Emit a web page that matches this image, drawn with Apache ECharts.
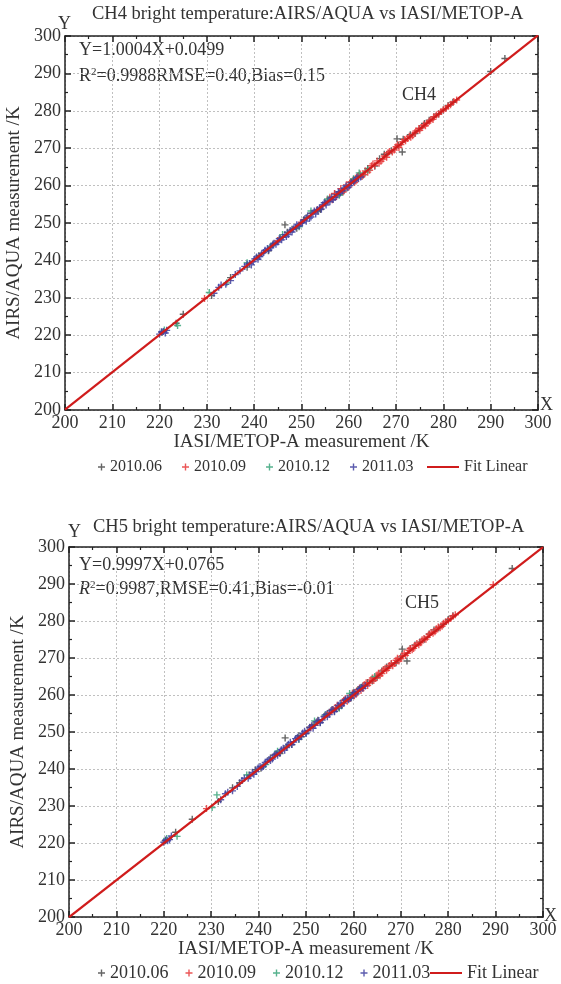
<!DOCTYPE html>
<html><head><meta charset="utf-8">
<script src="https://cdn.jsdelivr.net/npm/echarts@6/dist/echarts.min.js"></script>
<style>html,body{margin:0;padding:0;background:#fff}#c{width:561px;height:984px}</style>
</head><body><div id="c"></div>
<script>
// ---------- data ----------
const seriesNames = ['2010.06', '2010.09', '2010.12', '2011.03'];
const axisTicks = [200, 210, 220, 230, 240, 250, 260, 270, 280, 290, 300];

// CH4 (IASI x, AIRS y)
const ch4_201006 = [[220.5,220.8],[223.5,223.2],[225,225.6],[231,230.6],[235,235.4],[238.5,238.2],[241,241.3],[243,242.6],[244,244.4],[245.5,246],[246.5,249.5],[247,247.5],[248,248.3],[249,248.6],[250.5,250.9],[251,251.4],[252,252.6],[253.5,253.2],[254,253.6],[255,255.4],[256,256.5],[257,257.8],[258,257.7],[259,258.6],[260.5,261],[261,261.6],[262,262.4],[263,262.8],[264,264.6],[265.5,265.2],[266.5,267.2],[267.5,268.4],[268,268.3],[269,269.3],[270.2,272.5],[270.5,270.8],[271.3,269],[271.5,272.4],[273,273.6],[274,273.9],[275,275.3],[276,276.6],[277,277.5],[278,278.4],[279,279.2],[280,280.2],[281,281.4],[282,282.3],[290,290.5],[293,294]];
const ch4_201009 = [[229.5,229.8],[245,245.3],[250,250.2],[253.2,253.5],[254.5,254.6],[255.5,255.8],[256,256.9],[256.5,256.2],[257,257.9],[257.4,257.1],[258,258.4],[258.3,259.2],[258.8,258.3],[259.1,259],[259.5,260.2],[260,259.6],[260.3,260.9],[260.8,261.3],[261.2,260.8],[261.5,261.2],[262,262.7],[262.4,263.1],[262.8,262.4],[263.2,263],[263.5,263.9],[264,263.6],[264.4,264.1],[264.8,265.3],[265.1,265.8],[265.5,265.4],[266,266.6],[266.4,266],[266.8,266.5],[267.2,267.1],[267.5,267.9],[268,267.6],[268.3,268.8],[268.6,269.1],[269.2,269],[269.6,269.5],[270,270.4],[270.3,270.9],[270.6,270.2],[271,271],[271.3,271.7],[271.8,272.3],[272,272],[272.4,272.6],[272.8,273.2],[273.1,272.9],[273.5,273.3],[274,274.2],[274.2,274.6],[274.8,275.3],[275,274.8],[275.4,275.5],[275.8,276.2],[276.2,276],[276.5,276.6],[277,277.2],[277.3,277.5],[277.8,277.7],[278,278.4],[278.5,278.9],[279,279.1],[279.5,279.8],[280,280.3],[280.5,280.6],[281,281.2],[281.5,281.6],[282.2,282.5],[282.8,282.9]];
const ch4_201012 = [[221,221.4],[223.8,222.6],[230.5,231.4],[234.2,234],[238.5,239.4],[243.5,243.8],[246,246.9],[249.5,249],[252,253.2],[255.5,256.4],[258,257.4],[261,261.8],[262.2,263.4],[264,264.2]];
const ch4_201103 = [[220,220.3],[220.4,220.9],[220.8,221],[221.2,220.6],[221.5,221.3],[231.5,231.2],[232.5,232.8],[233,233.4],[234,233.6],[235,234.6],[236,236.2],[237,237.2],[238,238.4],[238.5,239],[239,239.2],[239.4,238.8],[239.8,239.7],[240.1,240.4],[240.5,240.9],[240.8,240.3],[241.2,241],[241.6,241.8],[242,242.1],[242.3,242.7],[242.8,243.2],[243.1,242.8],[243.5,243.4],[243.9,244.1],[244.2,244.6],[244.6,244.3],[245,244.9],[245.3,245.8],[245.8,245.5],[246.1,246.2],[246.5,246.9],[246.8,246.4],[247.2,246.9],[247.6,248],[248,247.6],[248.3,248.4],[248.7,248.9],[249,249.5],[249.5,249.2],[249.8,249.9],[250.2,250.1],[250.6,250.8],[251,250.5],[251.3,251.9],[251.7,251.3],[252,251.6],[252.4,252.7],[252.7,253.2],[253,252.4],[253.4,253.6],[253.8,254],[254.2,253.7],[254.5,254.9],[254.8,255.4],[255.2,254.8],[255.6,255.9],[256,255.7],[256.4,256.9],[256.7,256.3],[257.1,256.8],[257.5,257.6],[257.8,258.3],[258.2,258],[258.6,258.6],[259,259.3],[259.4,259.9],[259.8,259.5],[260.2,260],[260.5,260.7],[261,261.1],[261.3,261.4],[261.7,262.2],[262,261.8],[262.5,262.3]];
const ch4_fit = [[200,200.13],[300,300.17]];

// CH5
const ch5_201006 = [[220.3,220.6],[222.5,222.9],[226,226.4],[231.5,231.2],[234.5,234.9],[236,236.3],[238,238.4],[239.3,239.8],[240.5,240.2],[242.5,243],[243.5,243.9],[244.5,244.2],[245.6,248.4],[246,246.2],[247,246.6],[248.5,249],[249,248.7],[250,249.7],[250.8,251.3],[251.5,252],[252.5,253.2],[253,252.6],[254.5,255],[255.5,256.1],[256,255.6],[257,256.6],[258,258.6],[259.5,259.2],[260,260.6],[261,261.5],[262,262.4],[263,263.4],[264,263.8],[265,264.8],[266,266.5],[267,267.6],[268,268.4],[269,268.7],[270,270.3],[270.3,272.4],[271.3,269.2],[272,272.6],[273,273.5],[274,274.3],[275,275.1],[276,276.5],[277,277.6],[278,278.2],[279,279.1],[280,280.4],[281,281.4],[293.5,294.2]];
const ch5_201009 = [[229,229.3],[244,244.2],[251,251.2],[252.5,252.6],[254,254.3],[255,255.3],[255.6,255.9],[256.2,256.6],[256.6,257.2],[257,256.7],[257.5,257.4],[258,258.5],[258.3,259],[258.7,258.3],[259.1,259.1],[259.5,259.9],[259.8,260.5],[260.2,259.8],[260.6,260.3],[261,261.4],[261.3,261.9],[261.6,261.2],[262,261.8],[262.3,262.8],[262.7,263.3],[263,262.6],[263.4,263.2],[263.7,264.1],[264,264.6],[264.3,263.9],[264.7,264.5],[265,265.4],[265.3,265.9],[265.6,265.2],[266,265.8],[266.3,266.8],[266.7,267.2],[267,266.7],[267.3,267.2],[267.6,268],[268,268.5],[268.3,267.9],[268.7,268.5],[269,269.4],[269.3,269.9],[269.6,269.2],[270,269.8],[270.3,270.6],[270.7,271.2],[271,270.7],[271.4,271.3],[271.7,272.1],[272,272.6],[272.4,272.2],[272.7,272.6],[273,273.4],[273.4,273.9],[273.8,273.6],[274.2,274.1],[274.5,274.9],[274.9,275.3],[275.3,275.1],[275.6,275.6],[276,276.4],[276.4,276.9],[276.8,276.7],[277.2,277.1],[277.5,277.9],[277.9,278.4],[278.3,278.2],[278.7,278.6],[279,279.4],[279.5,279.8],[280,280.1],[280.5,280.7],[281,281.3],[281.5,281.7],[289.5,289.8]];
const ch5_201012 = [[220.6,221.2],[222.8,221.8],[230.2,229.6],[231.2,233],[237.5,238.4],[241.5,241.2],[244,244.8],[248.5,248],[251.8,253],[254,254.6],[257,256.4],[259.2,260.4],[261.5,262],[264.5,265]];
const ch5_201103 = [[220,220.2],[220.4,220.8],[220.8,220.6],[221.2,220.9],[221.6,221.9],[232,231.7],[233,233.3],[233.5,233.7],[234.5,234.1],[235.5,235.3],[236.5,236.9],[237,237.5],[237.8,237.5],[238.2,238.1],[238.7,239.1],[239,238.6],[239.5,239.3],[239.9,240.3],[240.3,240.7],[240.7,240.5],[241,240.7],[241.4,241.8],[241.8,242.1],[242.2,242.6],[242.5,242.3],[242.9,242.7],[243.3,243.7],[243.7,244.1],[244,243.7],[244.4,244.5],[244.8,245.2],[245.2,245.6],[245.5,245.1],[245.9,245.8],[246.3,246.7],[246.7,247.2],[247,246.6],[247.4,247.3],[247.8,248.2],[248.2,248.6],[248.5,248.1],[248.9,248.8],[249.3,249.7],[249.7,250.2],[250,249.6],[250.4,250.3],[250.8,251.2],[251.2,251.7],[251.5,251],[251.9,251.8],[252.3,252.8],[252.7,253.1],[253,252.5],[253.4,253.2],[253.8,254.2],[254.2,254.7],[254.5,254.1],[254.9,254.7],[255.3,255.8],[255.7,256.1],[256,255.5],[256.4,256.2],[256.8,257.2],[257.2,257.7],[257.5,257.1],[257.9,257.8],[258.3,258.7],[258.7,259.1],[259,258.7],[259.4,259.2],[259.8,260.1],[260.2,260.6],[260.5,260.3],[260.9,260.9],[261.3,261.7],[261.7,262.1],[262,261.8],[262.5,262.4]];
const ch5_fit = [[200,199.94],[300,299.99]];

// ---------- styling ----------
const FONT = 'Liberation Serif';
const colors = ['#4a4a4a', '#e8383a', '#3aa57a', '#4040a0'];
const fitColor = '#d01c1c';
const plus = 'path://M4,0h2v4h4v2h-4v4h-2v-4h-4v-2h4z';

const grids = [
  {left: 65, right: 23, top: 36, height: 374, outerBoundsMode: 'none', containLabel: false},
  {left: 69, right: 18, top: 547, height: 370, outerBoundsMode: 'none', containLabel: false}
];
const cfg = [
  {xNameGap: 21, yNameGap: 38, legendTop: 459, legendFont: 16, legendGap: 20, legendLeft: 98, fitLeft: 427, titleLeft: 92, titleTop: 5},
  {xNameGap: 17, yNameGap: 39, legendTop: 964, legendFont: 18, legendGap: 17, legendLeft: 98, fitLeft: 430, titleLeft: 93, titleTop: 518}
];

function axisBase(gi, pos, showLabel) {
  return {
    type: 'value', gridIndex: gi, position: pos, min: 200, max: 300, interval: 10,
    axisLine: {show: true, onZero: false, lineStyle: {color: '#222', width: 1.5}},
    axisTick: {show: true, inside: true, length: 6, lineStyle: {color: '#222', width: 1.5}},
    minorTick: {show: true, splitNumber: 2, length: 3, lineStyle: {color: '#222', width: 1.2}},
    splitLine: {show: showLabel, lineStyle: {color: '#c0c0c0', type: [2, 2], width: 1}},
    axisLabel: {show: showLabel, color: '#333', fontFamily: FONT, fontSize: 18, margin: 4,
      formatter: v => axisTicks.indexOf(v) >= 0 ? String(v) : ''}
  };
}

const xAxis = [], yAxis = [], series = [];
const sets = [
  {data: [ch4_201006, ch4_201009, ch4_201012, ch4_201103], fit: ch4_fit},
  {data: [ch5_201006, ch5_201009, ch5_201012, ch5_201103], fit: ch5_fit}
];
grids.forEach((g, gi) => {
  const c = cfg[gi];
  const xb = axisBase(gi, 'bottom', true);
  xb.name = 'IASI/METOP-A measurement /K';
  xb.nameLocation = 'middle'; xb.nameGap = c.xNameGap;
  xb.nameTextStyle = {fontFamily: FONT, fontSize: 19, color: '#333', verticalAlign: 'top'};
  const xt = axisBase(gi, 'top', false);
  const yl = axisBase(gi, 'left', true);
  yl.name = 'AIRS/AQUA measurement /K';
  yl.nameLocation = 'middle'; yl.nameGap = c.yNameGap;
  yl.nameTextStyle = {fontFamily: FONT, fontSize: 19, color: '#333'};
  const yr = axisBase(gi, 'right', false);
  xAxis.push(xb, xt);
  yAxis.push(yl, yr);
  const xi = gi * 2, yi = gi * 2;
  sets[gi].data.forEach((d, k) => {
    series.push({type: 'scatter', name: seriesNames[k], xAxisIndex: xi, yAxisIndex: yi,
      data: d, symbol: plus, symbolSize: 7, itemStyle: {color: colors[k], opacity: 0.85}, z: 3});
  });
  series.push({type: 'line', name: 'Fit Linear', xAxisIndex: xi, yAxisIndex: yi,
    data: sets[gi].fit, showSymbol: false, symbol: 'none',
    lineStyle: {color: fitColor, width: 2.2}, itemStyle: {color: fitColor}, z: 5});
});

const legends = [];
cfg.forEach(c => {
  legends.push({
    top: c.legendTop, left: c.legendLeft, padding: 0, itemGap: c.legendGap, itemWidth: 7, itemHeight: 7,
    textStyle: {fontFamily: FONT, fontSize: c.legendFont, color: '#333'},
    data: seriesNames.map((n, k) => ({name: n, icon: plus, itemStyle: {color: colors[k]}}))
  });
  legends.push({
    top: c.legendTop, left: c.fitLeft, padding: 0, itemWidth: 32, itemHeight: 2,
    textStyle: {fontFamily: FONT, fontSize: c.legendFont, color: '#333'},
    data: [{name: 'Fit Linear', icon: 'rect', itemStyle: {color: fitColor}}]
  });
});

const F = s => s + 'px "' + FONT + '"';
const txt = (x, y, t, size) => ({type: 'text', left: x, top: y,
  style: {text: t, font: F(size), fill: '#333'}});

const option = {
  animation: false,
  backgroundColor: '#fff',
  title: cfg.map((c, i) => ({
    text: (i === 0 ? 'CH4' : 'CH5') + ' bright temperature:AIRS/AQUA vs IASI/METOP-A',
    left: c.titleLeft, top: c.titleTop, padding: 0,
    textStyle: {fontFamily: FONT, fontSize: 18.5, fontWeight: 'normal', color: '#333'}
  })),
  grid: grids,
  xAxis: xAxis,
  yAxis: yAxis,
  legend: legends,
  series: series,
  graphic: [
    txt(58, 15, 'Y', 18), txt(540, 396, 'X', 18),
    txt(68, 523, 'Y', 18), txt(544, 907, 'X', 18),
    txt(79, 41, 'Y=1.0004X+0.0499', 18),
    {type: 'text', left: 79, top: 67, style: {
      text: '{a|R}{s|2}{a|=0.9988RMSE=0.40,Bias=0.15}',
      rich: {a: {font: F(18), fill: '#333'}, s: {font: F(11), fill: '#333', verticalAlign: 'top', padding: [0, 0, 8, 0]}}}},
    txt(402, 86, 'CH4', 18),
    txt(79, 556, 'Y=0.9997X+0.0765', 18),
    {type: 'text', left: 79, top: 580, style: {
      text: '{i|R}{s|2}{a|=0.9987,RMSE=0.41,Bias=-0.01}',
      rich: {a: {font: F(18), fill: '#333'}, i: {font: 'italic ' + F(18), fill: '#333'}, s: {font: F(11), fill: '#333', verticalAlign: 'top', padding: [0, 0, 8, 0]}}}},
    txt(405, 594, 'CH5', 18)
  ]
};
const chart = echarts.init(document.getElementById('c'), null, {renderer: 'canvas'});
chart.setOption(option);
</script></body></html>
